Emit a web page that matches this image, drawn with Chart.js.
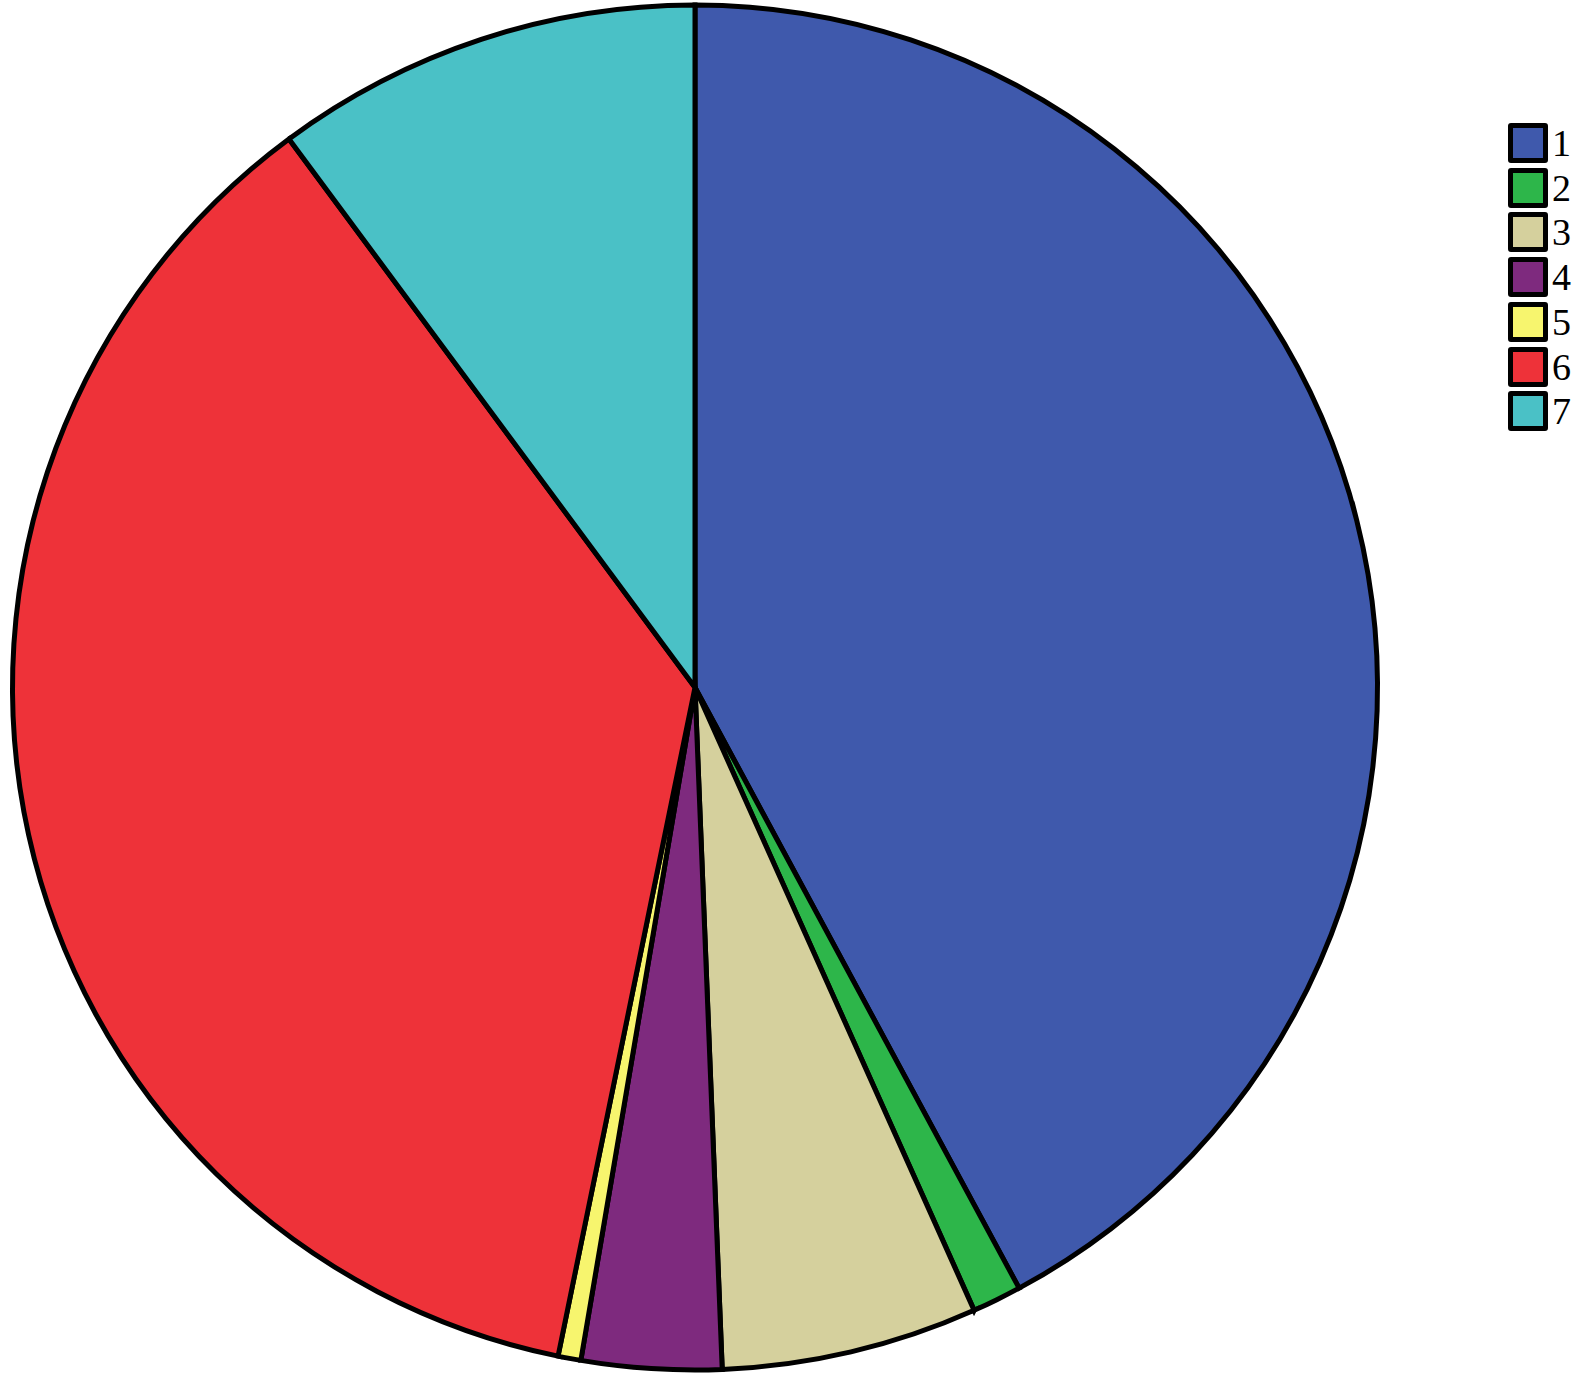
<!DOCTYPE html>
<html>
<head>
<meta charset="utf-8">
<script src="https://cdn.jsdelivr.net/npm/chart.js@4.4.1/dist/chart.umd.min.js"></script>
<style>
  html, body { margin: 0; padding: 0; background: #ffffff; }
  #wrap { position: relative; width: 1575px; height: 1376px; overflow: hidden; }
  #c { position: absolute; left: 0; top: 0; }
  #legend { position: absolute; left: 1508px; top: 123px; font-family: "Liberation Serif", "Times New Roman", serif; }
  .item { position: absolute; left: 0; height: 40px; display: flex; align-items: center; white-space: nowrap; }
  .box { width: 30px; height: 30px; border: 5px solid #000; border-radius: 3px; box-sizing: content-box; }
  .lab { margin-left: 4px; font-size: 38px; color: #000; line-height: 40px; }
</style>
</head>
<body>
<div id="wrap">
  <canvas id="c" width="1390" height="1376"></canvas>
  <div id="legend"></div>
</div>
<script>
const categories = ["1", "2", "3", "4", "5", "6", "7"];
const values = [42.12, 1.17, 6.07, 3.31, 0.54, 36.64, 10.14];
const colors = ["#3F59AC", "#2DB64A", "#D5D09D", "#7E2A7E", "#F7F56E", "#EE3239", "#4AC1C6"];

const ctx = document.getElementById('c').getContext('2d');
new Chart(ctx, {
  type: 'pie',
  data: {
    labels: categories,
    datasets: [{
      data: values,
      backgroundColor: colors,
      borderColor: '#000000',
      borderWidth: 5,
      borderAlign: 'center',
      borderJoinStyle: 'miter'
    }]
  },
  options: {
    responsive: false,
    animation: false,
    devicePixelRatio: 1,
    rotation: 0,
    layout: { padding: { left: 10, right: 10, top: 2, bottom: 3 } },
    plugins: {
      legend: { display: false },
      tooltip: { enabled: false },
      title: { display: false }
    }
  }
});

const legend = document.getElementById('legend');
categories.forEach((cat, i) => {
  const item = document.createElement('div');
  item.className = 'item';
  item.style.top = (i * 44.7) + 'px';
  const box = document.createElement('div');
  box.className = 'box';
  box.style.background = colors[i];
  const lab = document.createElement('span');
  lab.className = 'lab';
  lab.textContent = cat;
  item.appendChild(box);
  item.appendChild(lab);
  legend.appendChild(item);
});
</script>
</body>
</html>
